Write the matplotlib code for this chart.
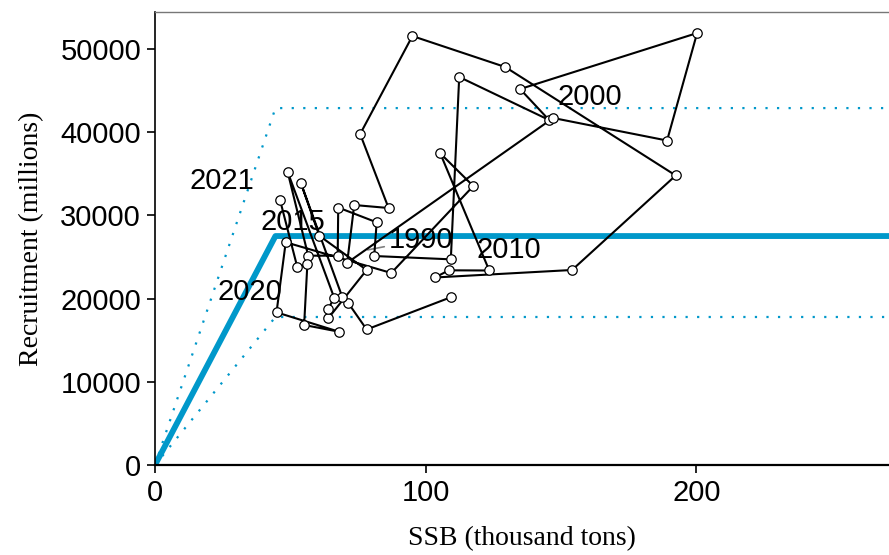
import numpy as np
import matplotlib.pyplot as plt

# stock-recruitment series, 1978-2021
years = np.arange(1978, 2022)
ssb = [109.5, 78.2, 71.4, 69.2, 53.9, 60.7, 78.2, 64.0, 64.0, 66.2,
       49.0, 56.6, 67.5, 67.7, 81.9, 81.0, 109.3, 112.4, 145.6, 134.9,
       200.3, 189.2, 147.1, 71.0, 73.6, 86.3, 75.8, 95.1, 129.4, 192.4,
       154.1, 103.5, 108.5, 123.5, 105.4, 117.6, 87.3, 48.3, 44.9, 68.0,
       55.1, 56.3, 52.6, 46.2]
rec = [20190, 16290, 19470, 20190, 33890, 27560, 23440, 17630, 18750, 20110,
       35250, 25160, 25160, 30950, 29170, 25120, 24720, 46640, 41470, 45190,
       51920, 39000, 41710, 24300, 31250, 30890, 39780, 51560, 47840, 34800,
       23440, 22540, 23400, 23380, 37460, 33530, 23080, 26770, 18350, 16020,
       16830, 24160, 23760, 31850]

# hockey-stick fit and its interval
hs_break = 44.5
hs_rmax = 27520
hs_upper = 42900
hs_lower = 17790

# years written on the plot and where their text sits (pixels from the point)
label_years = [1990, 2000, 2010, 2015, 2020, 2021]
label_dx = [83, 37, 60, 7, -47, -58]
label_dy = [16, 21, 20, 20, -25, 19]

xmax = 271.2
ymax = 54450

fig = plt.figure(figsize=(8.89, 5.55), dpi=100)
ax = fig.add_axes([155 / 889, 1 - 465 / 555, 1 - 155 / 889, (465 - 12) / 555])

blue = '#0098CA'
ax.plot([0, hs_break, xmax], [0, hs_rmax, hs_rmax], color=blue, lw=4.2,
        solid_capstyle='butt', zorder=1)
for lev in (hs_upper, hs_lower):
    ax.plot([0, hs_break, xmax], [0, lev, lev], color=blue, lw=1.6,
            linestyle=(0, (1, 4.2)), zorder=1)

ax.plot(ssb, rec, color='black', lw=1.5, zorder=3)
ax.plot(ssb, rec, 'o', ms=6.8, mfc='white', mec='black', mew=0.9, zorder=4)

for yr, dx, dy in zip(label_years, label_dx, label_dy):
    i = list(years).index(yr)
    arrow = None
    if yr == 1990:
        arrow = dict(arrowstyle='-', color='grey', lw=1.2, shrinkA=1, shrinkB=22)
    ax.annotate(str(yr), (ssb[i], rec[i]), xytext=(dx, dy), textcoords='offset pixels',
                ha='center', va='center', fontsize=21, family='Liberation Sans',
                arrowprops=arrow, zorder=2)

ax.set_xlim(0, xmax)
ax.set_ylim(0, ymax)
ax.set_xticks([0, 100, 200])
ax.set_yticks(np.arange(0, 50001, 10000))
ax.tick_params(direction='out', length=6, width=1.2, labelsize=21, pad=4)
for lab in ax.get_xticklabels() + ax.get_yticklabels():
    lab.set_family('Liberation Sans')

ax.spines['right'].set_visible(False)
ax.spines['top'].set_color('#777777')
ax.spines['top'].set_linewidth(1.0)
ax.spines['left'].set_linewidth(1.2)
ax.spines['bottom'].set_linewidth(1.6)

ax.set_xlabel('SSB (thousand tons)', family='Liberation Serif', fontsize=20)
ax.xaxis.set_label_coords(0.5, -0.135)
ax.set_ylabel('Recruitment (millions)', family='Liberation Serif', fontsize=20, labelpad=12)

fig.savefig('out.png', dpi=100)
